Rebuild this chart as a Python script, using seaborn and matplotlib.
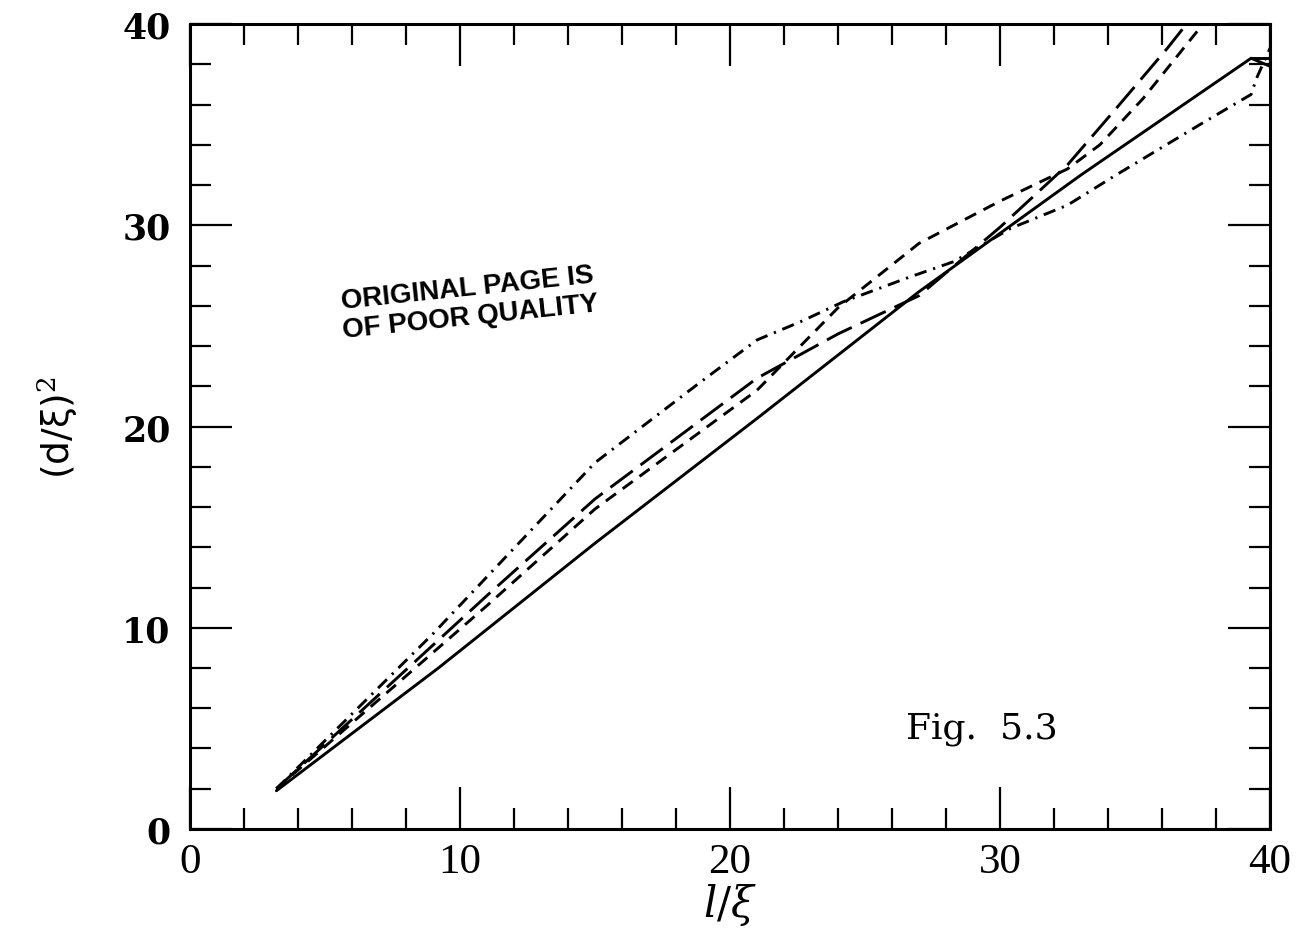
import numpy as np
import pandas as pd
import matplotlib
matplotlib.use("Agg")
import matplotlib.pyplot as plt
import seaborn as sns
from matplotlib.ticker import MultipleLocator

# Curves of (d/xi)^2 against l/xi
solid_x = [3.2, 9.2, 15.0, 21.0, 27.0, 33.0, 39.3, 40.0]
solid_y = [1.9, 8.0, 14.2, 20.4, 26.7, 32.5, 38.3, 37.9]
solid_tip_x = [39.3, 40.0]
solid_tip_y = [38.3, 38.3]
long_x = [3.2, 11.0, 15.0, 21.0, 24.0, 27.0, 30.0, 32.5, 34.3, 36.2, 37.5]
long_y = [2.0, 11.6, 16.4, 22.4, 24.6, 26.5, 29.9, 33.0, 35.8, 38.8, 41.0]
short_x = [3.2, 11.0, 15.0, 21.0, 24.0, 27.0, 30.0, 32.5, 33.7, 35.3, 37.7, 38.5]
short_y = [2.0, 11.1, 15.9, 21.8, 25.9, 29.1, 31.2, 32.8, 34.0, 36.3, 40.3, 41.5]
dashdot_x = [3.2, 9.0, 15.0, 18.9, 21.0, 22.6, 24.2, 26.6, 28.3, 30.4, 32.5, 34.3, 37.4, 39.3, 39.5, 40.0]
dashdot_y = [2.0, 9.7, 18.2, 22.2, 24.3, 25.2, 26.2, 27.4, 28.2, 29.85, 31.0, 32.5, 35.0, 36.5, 37.3, 38.8]

x_ticks = [0, 10, 20, 30, 40]
y_ticks = [0, 10, 20, 30, 40]

frames = []
for name, xs, ys in [("solid", solid_x, solid_y), ("solid_tip", solid_tip_x, solid_tip_y),
                     ("long", long_x, long_y), ("short", short_x, short_y),
                     ("dashdot", dashdot_x, dashdot_y)]:
    frames.append(pd.DataFrame({"l": xs, "d2": ys, "series": name}))
df = pd.concat(frames, ignore_index=True)

sns.set_style("ticks")
plt.rcParams["lines.scale_dashes"] = False
plt.rcParams["mathtext.fontset"] = "dejavuserif"
plt.rcParams["text.color"] = "black"
plt.rcParams["axes.labelcolor"] = "black"
plt.rcParams["xtick.color"] = "black"
plt.rcParams["ytick.color"] = "black"

fig = plt.figure(figsize=(13.12, 9.37), dpi=100)
ax = fig.add_axes([0.1448, 0.1142, 0.968 - 0.1448, 0.9733 - 0.1142])

dash_styles = {
    "solid": "",
    "solid_tip": "",
    "long": (20, 7),
    "short": (9, 6),
    "dashdot": (9, 5, 1.6, 5),
}
sns.lineplot(data=df, x="l", y="d2", style="series", units="series", estimator=None,
             sort=False, dashes=dash_styles, color="black", linewidth=2.1,
             legend=False, ax=ax)

ax.set_xlim(0, 40)
ax.set_ylim(0, 40)
ax.set_xticks(x_ticks)
ax.set_yticks(y_ticks)
ax.xaxis.set_minor_locator(MultipleLocator(2))
ax.yaxis.set_minor_locator(MultipleLocator(2))
ax.tick_params(which="both", direction="in", top=True, right=True,
               color="black", labelcolor="black", width=1.6)
ax.tick_params(which="major", length=30)
ax.tick_params(which="minor", length=15)
ax.tick_params(axis="x", which="major", pad=10)
ax.tick_params(axis="y", which="major", pad=14)
for s in ax.spines.values():
    s.set_linewidth(2.2)
    s.set_color("black")

for lbl in ax.get_xticklabels():
    lbl.set_fontfamily("Liberation Serif")
    lbl.set_fontsize(31)
for lbl in ax.get_yticklabels():
    lbl.set_fontfamily("DejaVu Serif")
    lbl.set_fontweight("bold")
    lbl.set_fontsize(25)

ax.set_xlabel(r"$l/\xi$", fontsize=30, labelpad=0, color="black")
ax.set_ylabel("(d/ξ)$^2$", fontsize=27, labelpad=30,
              fontfamily="DejaVu Sans", color="black")

ax.text(0.258, 0.655, "ORIGINAL PAGE IS\nOF POOR QUALITY", transform=ax.transAxes,
        fontsize=20, fontweight="bold", fontfamily="Liberation Sans",
        rotation=6, ha="center", va="center", linespacing=1.15, color="black")
ax.text(0.733, 0.125, "Fig.  5.3", transform=ax.transAxes, fontsize=26,
        fontfamily="DejaVu Serif", ha="center", va="center", color="black")

fig.savefig("out.png", dpi=100, facecolor="white")
